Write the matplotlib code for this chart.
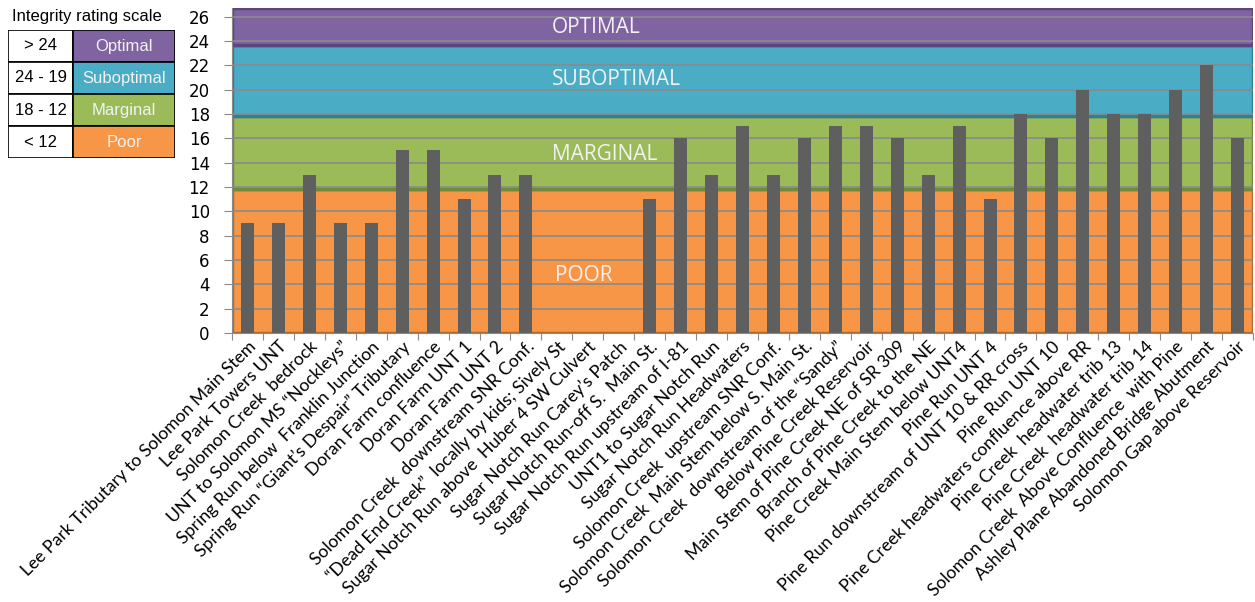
import matplotlib
matplotlib.use("Agg")
import matplotlib.pyplot as plt
from matplotlib.patches import Rectangle
import numpy as np

sites = [
    "Lee Park Tributary to Solomon Main Stem",
    "Lee Park Towers UNT",
    "Solomon Creek  bedrock",
    "UNT to Solomon MS \u201cNockleys\u201d",
    "Spring Run below  Franklin Junction",
    "Spring Run \u201cGiant\u2019s Despair\u201d Tributary",
    "Doran Farm confluence",
    "Doran Farm UNT 1",
    "Doran Farm UNT 2",
    "Solomon Creek  downstream SNR Conf.",
    "\u201cDead End Creek\u201d  locally by kids; Sively St",
    "Sugar Notch Run above  Huber 4 SW Culvert",
    "Sugar Notch Run Carey\u2019s Patch",
    "Sugar Notch Run-off S.  Main St.",
    "Sugar Notch Run upstream of I-81",
    "UNT1 to Sugar Notch Run",
    "Sugar Notch Run Headwaters",
    "Solomon Creek  upstream SNR Conf.",
    "Solomon Creek  Main Stem below S. Main St.",
    "Solomon Creek  downstream of the \u201cSandy\u201d",
    "Below Pine Creek Reservoir",
    "Main Stem of Pine Creek NE of SR 309",
    "Branch of Pine Creek to the NE",
    "Pine Creek Main Stem below UNT4",
    "Pine Run UNT 4",
    "Pine Run downstream of UNT 10 & RR cross",
    "Pine Run UNT 10",
    "Pine Creek headwaters confluence above RR",
    "Pine Creek  headwater trib 13",
    "Pine Creek  headwater trib 14",
    "Solomon Creek  Above Confluence  with Pine",
    "Ashley Plane Abandoned Bridge Abutment",
    "Solomon Gap above Reservoir",
]
scores = [9, 9, 13, 9, 9, 15, 15, 11, 13, 13, 0, 0, 0, 11, 16, 13, 17, 13, 16,
          17, 17, 16, 13, 17, 11, 18, 16, 20, 18, 18, 20, 22, 16]

band_names = ["POOR", "MARGINAL", "SUBOPTIMAL", "OPTIMAL"]
band_low = [0, 11.8, 17.8, 23.7]
band_high = [11.8, 17.8, 23.7, 26.7]
band_colors = ["#F79646", "#9BBB59", "#4BACC6", "#8064A2"]
band_edges = ["#B5692C", "#6E8A3A", "#2F7F96", "#5B4680"]
band_label_y = [4.7, 14.7, 20.8, 25.1]
band_label_x = [9.94, 9.84, 9.84, 9.84]

legend_ranges = ["> 24", "24 - 19", "18 - 12", "< 12"]
legend_names = ["Optimal", "Suboptimal", "Marginal", "Poor"]
legend_colors = ["#8064A2", "#4BACC6", "#9BBB59", "#F79646"]

yticks = list(range(0, 27, 2))

plt.rcParams['font.family'] = ['Lato', 'DejaVu Sans']

fig = plt.figure(figsize=(12.55, 6.02), dpi=100)
ax = fig.add_axes([232/1255, 1-333/602, 1021/1255, 325/602])

n = len(sites)
x = np.arange(n)
ax.set_xlim(-0.5, n - 0.5)
ax.set_ylim(0, 26.7)

for lo, hi, c, ec in zip(band_low, band_high, band_colors, band_edges):
    ax.add_patch(Rectangle((-0.5, lo), n, hi - lo, facecolor=c, edgecolor=ec,
                           linewidth=2.5, zorder=0))

for yv in yticks[1:]:
    ax.axhline(yv, color="#8A8A8A", linewidth=1.2, zorder=1)

ax.bar(x, scores, width=0.42, color="#5F5F5F", zorder=2)

for name, lx, ly in zip(band_names, band_label_x, band_label_y):
    ax.text(lx, ly, name, color="#F2F2F2", fontsize=15, ha="left",
            va="center", zorder=3, family=['Open Sans', 'DejaVu Sans'])

ax.set_yticks(yticks)
ax.set_yticklabels([str(v) for v in yticks], fontsize=12,
                   family=['DejaVu Sans'])
ax.set_xticks(np.arange(-0.5, n, 1.0))
ax.set_xticklabels([])
ax.set_xticks(x, minor=True)
ax.set_xticklabels(sites, minor=True, rotation=45, ha="right", va="top",
                   rotation_mode="anchor", fontsize=12.7)
ax.tick_params(axis="x", which="minor", length=0, pad=4)
ax.tick_params(axis="x", which="major", length=5, color="#8A8A8A")
ax.tick_params(axis="y", length=6, color="#8A8A8A", pad=10)
for s in ["top", "right"]:
    ax.spines[s].set_visible(False)
for s in ["left", "bottom"]:
    ax.spines[s].set_color("#8A8A8A")

# legend table
fig.text(12/1255, 1-16/602, "Integrity rating scale", fontsize=12,
         va="center", ha="left", family=['Liberation Sans', 'DejaVu Sans'])
lax = fig.add_axes([8/1255, 1-158/602, 167/1255, 128/602])
lax.set_xlim(0, 167)
lax.set_ylim(0, 4)
lax.axis("off")
for i, (r, nm, c) in enumerate(zip(legend_ranges, legend_names, legend_colors)):
    yb = 3 - i
    lax.add_patch(Rectangle((0, yb), 65, 1, facecolor="white",
                            edgecolor="black", linewidth=1.2))
    lax.add_patch(Rectangle((65, yb), 102, 1, facecolor=c,
                            edgecolor="black", linewidth=1.2))
    lax.text(32.5, yb + 0.5, r, ha="center", va="center", fontsize=12,
             family=['Liberation Sans', 'DejaVu Sans'])
    lax.text(116, yb + 0.5, nm, ha="center", va="center", fontsize=12,
             color="#F2F2F2", family=['Liberation Sans', 'DejaVu Sans'])

fig.savefig("out.png", dpi=100)
